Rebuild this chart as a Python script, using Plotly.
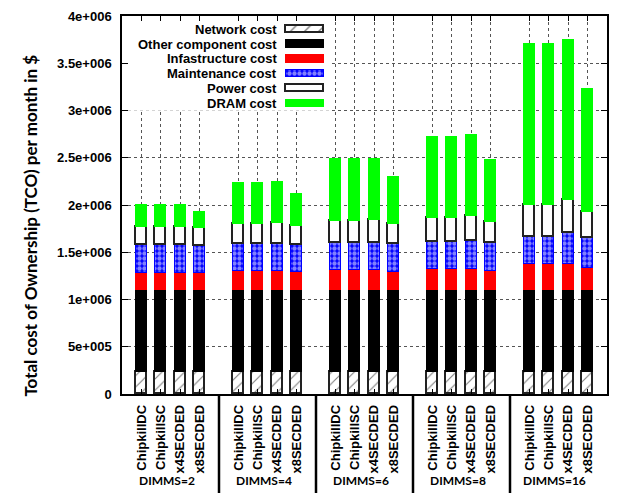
import plotly.graph_objects as go

# ---------------- data ----------------
groups = ["DIMMS=2", "DIMMS=4", "DIMMS=6", "DIMMS=8", "DIMMS=16"]
schemes = ["ChipkillDC", "ChipkillSC", "x4SECDED", "x8SECDED"]

# values per bar, ordered group by group (4 schemes each), in $
network_cost = [235000] * 20
other_cost = [862000] * 20
infra_cost = [188000, 188000, 188000, 188000,
              202000, 202000, 202000, 199000,
              215000, 215000, 215000, 199000,
              226000, 226000, 226000, 209000,
              278000, 278000, 278000, 236000]
maint_cost = [289000, 289000, 289000, 282000,
              285000, 285000, 285000, 282000,
              290000, 290000, 290000, 288000,
              289000, 289000, 300000, 296000,
              282000, 282000, 324000, 314000]
power_cost = [198000, 198000, 198000, 192000,
              216000, 216000, 227000, 202000,
              233000, 233000, 240000, 216000,
              251000, 251000, 258000, 219000,
              345000, 345000, 349000, 282000]
dram_cost = [224000, 224000, 224000, 170000,
             436000, 436000, 436000, 334000,
             648000, 648000, 648000, 495000,
             860000, 860000, 857000, 655000,
             1700000, 1700000, 1696000, 1300000]

ytick_vals = [0, 500000, 1000000, 1500000, 2000000, 2500000, 3000000, 3500000, 4000000]
ytick_text = ["0", "5e+005", "1e+006", "1.5e+006", "2e+006", "2.5e+006", "3e+006", "3.5e+006", "4e+006"]

series_names = ["Network cost", "Other component cost", "Infastructure cost",
                "Maintenance cost", "Power cost", "DRAM cost"]
series_values = [network_cost, other_cost, infra_cost, maint_cost, power_cost, dram_cost]

# ---------------- styles ----------------
W, H = 618, 493
L, R, T, B = 122, 9, 11, 99
PW, PH = W - L - R, H - T - B
GAP = 5
xpos = [g * GAP + i for g in range(len(groups)) for i in range(len(schemes))]
xlabels = [s for g in groups for s in schemes]
XMIN, XMAX = -1, (len(groups) - 1) * GAP + len(schemes)

ARIAL = "Liberation Sans"
CALIBRI = "Lato"

styles = [
    dict(color="white", line=dict(color="#222222", width=1.6),
         pattern=dict(shape="/", fgcolor="black", bgcolor="white", size=8, solidity=0.14)),
    dict(color="black", line=dict(color="black", width=1.3)),
    dict(color="#ff0000", line=dict(color="#ff0000", width=1.3)),
    dict(color="#0000ff", line=dict(color="#0000ff", width=1.3),
         pattern=dict(shape=".", fgcolor="white", bgcolor="#0000ff", size=5, solidity=0.6)),
    dict(color="white", line=dict(color="#222222", width=1.8)),
    dict(color="#00ff00", line=dict(color="#00ff00", width=1.3)),
]

fig = go.Figure()
for name, vals, st in zip(series_names, series_values, styles):
    fig.add_trace(go.Bar(x=xpos, y=vals, name=name, width=0.56, marker=st,
                         showlegend=False))

# ---------------- manual legend (gnuplot style: text then sample) ----------------
def px_to_x(px):
    return (px - L) / PW * (XMAX - XMIN) + XMIN

def px_to_y(py):
    return (T + PH - py) / PH * 4000000

LEG_TEXT_RIGHT = 280
LEG_SAMPLE_X0, LEG_SAMPLE_LEN, LEG_SAMPLE_H = 287, 37.5, 7.5
LEG_ROW0, LEG_ROW_STEP = 24.5, 15
legend_rows = [LEG_ROW0 + k * LEG_ROW_STEP for k in range(len(series_names))]

for name, st, ry in zip(series_names, styles, legend_rows):
    lst = dict(st)
    if "pattern" in lst:
        p = dict(lst["pattern"])
        if p["shape"] == "/":
            p["size"] = 10
        lst["pattern"] = p
    fig.add_trace(go.Bar(orientation="h", x=[LEG_SAMPLE_LEN], base=[LEG_SAMPLE_X0], y=[ry],
                         width=LEG_SAMPLE_H, marker=lst, xaxis="x2", yaxis="y2",
                         showlegend=False, hoverinfo="skip"))
    fig.add_annotation(x=LEG_TEXT_RIGHT, y=ry, xref="x2", yref="y2", text=name,
                       showarrow=False, xanchor="right", yanchor="middle",
                       font=dict(family=ARIAL, size=13, color="black", weight="bold"))

# opaque legend background (hides grid lines)
fig.add_shape(type="rect", xref="x", yref="y", layer="between",
              x0=px_to_x(L + 1), x1=px_to_x(332), y0=px_to_y(T + 1), y1=px_to_y(107),
              fillcolor="white", line=dict(width=0))

# group separators below the axis
for g in range(1, len(groups)):
    xs = g * GAP - 1
    fig.add_shape(type="line", xref="x", yref="paper", x0=xs, x1=xs, y0=0, y1=-0.27,
                  line=dict(color="black", width=2.5))

# group labels
for g, name in enumerate(groups):
    fig.add_annotation(x=g * GAP + (len(schemes) - 1) / 2, y=-(482 - (T + PH)) / PH,
                       xref="x", yref="paper", text=name, showarrow=False, xshift=-4,
                       xanchor="center", yanchor="middle",
                       font=dict(family=CALIBRI, size=12, color="black", weight="bold"))

# y title
fig.add_annotation(x=(30 - L) / PW, y=(T + PH - 223) / PH, xref="paper", yref="paper",
                   text="Total cost of Ownership (TCO) per month in $", textangle=-90,
                   showarrow=False, xanchor="center", yanchor="middle",
                   font=dict(family=CALIBRI, size=17, color="black", weight="bold"))

grid = dict(showgrid=True, gridcolor="#555555", griddash="dot", gridwidth=1)
fig.update_layout(
    width=W, height=H,
    margin=dict(l=L, r=R, t=T, b=B, pad=0),
    barmode="stack", bargap=0,
    plot_bgcolor="white", paper_bgcolor="white",
    showlegend=False,
    xaxis=dict(range=[XMIN, XMAX], tickvals=xpos, ticktext=xlabels, tickangle=-90,
               ticks="inside", ticklen=5, tickwidth=1, tickcolor="black",
               showline=True, linecolor="black", linewidth=1.5, mirror="ticks",
               zeroline=False, ticklabelstandoff=4,
               tickfont=dict(family=ARIAL, size=13, color="black", weight="bold"), **grid),
    yaxis=dict(range=[0, 4000000], tickvals=ytick_vals, ticktext=ytick_text,
               ticks="inside", ticklen=6, tickwidth=1, tickcolor="black",
               showline=True, linecolor="black", linewidth=1.5, mirror="ticks",
               zeroline=False, ticklabelstandoff=6,
               tickfont=dict(family=ARIAL, size=13, color="black", weight="bold"), **grid),
    xaxis2=dict(range=[L, W - R], overlaying="x", anchor="y2", visible=False, fixedrange=True),
    yaxis2=dict(range=[T + PH, T], overlaying="y", anchor="x2", visible=False, fixedrange=True),
)

fig.write_html("out.html")
